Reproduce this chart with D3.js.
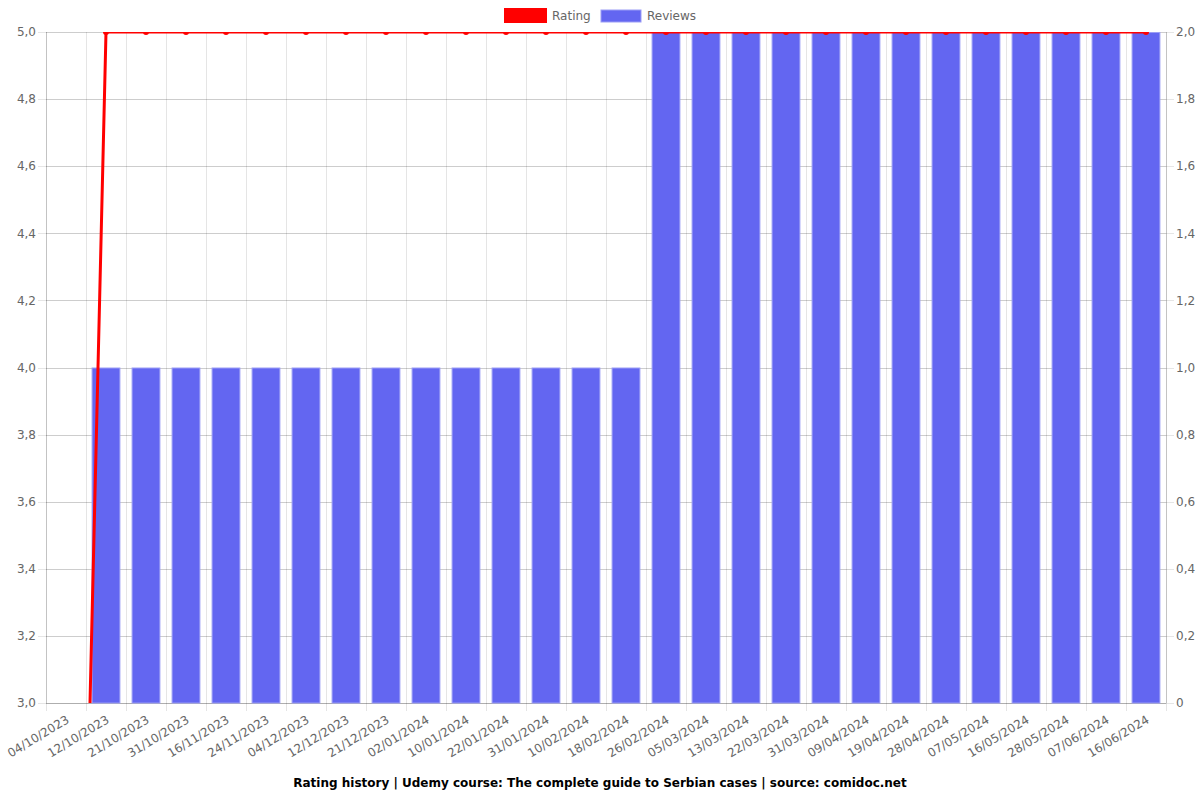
<!DOCTYPE html>
<html><head><meta charset="utf-8">
<script src="https://cdn.jsdelivr.net/npm/d3@7"></script>
<style>body{margin:0;background:#fff;font-family:"DejaVu Sans",sans-serif;}</style>
</head><body><svg id="c" width="1200" height="800"></svg>
<script>
const categories = ["04/10/2023","12/10/2023","21/10/2023","31/10/2023","16/11/2023","24/11/2023","04/12/2023","12/12/2023","21/12/2023","02/01/2024","10/01/2024","22/01/2024","31/01/2024","10/02/2024","18/02/2024","26/02/2024","05/03/2024","13/03/2024","22/03/2024","31/03/2024","09/04/2024","19/04/2024","28/04/2024","07/05/2024","16/05/2024","28/05/2024","07/06/2024","16/06/2024"];
const rating = [0,5,5,5,5,5,5,5,5,5,5,5,5,5,5,5,5,5,5,5,5,5,5,5,5,5,5,5];
const reviews = [0,1,1,1,1,1,1,1,1,1,1,1,1,1,1,2,2,2,2,2,2,2,2,2,2,2,2,2];
const leftTicks = [3.0,3.2,3.4,3.6,3.8,4.0,4.2,4.4,4.6,4.8,5.0];
const rightTicks = [0,0.2,0.4,0.6,0.8,1.0,1.2,1.4,1.6,1.8,2.0];
const title = "Rating history | Udemy course: The complete guide to Serbian cases | source: comidoc.net";

const L=46, R=1166, T=32, B=703;
const svg = d3.select("#c");
const x = d3.scaleBand().domain(categories).range([L,R]).paddingInner(0).paddingOuter(0);
const yL = d3.scaleLinear().domain([3,5]).range([B,T]);
const yR = d3.scaleLinear().domain([0,2]).range([B,T]);
const fmt = v => v===0 ? "0" : d3.format(".1f")(v).replace(".",",");

// grid
const g = svg.append("g");
const bounds = categories.map(c=>x(c)).concat([R]);
g.selectAll(".vg").data(bounds).enter().append("line")
 .attr("x1",d=>d+0.5).attr("x2",d=>d+0.5).attr("y1",T).attr("y2",B+8)
 .attr("stroke","rgba(0,0,0,0.1)");
[yL,yR].forEach((s,i)=>{
  const ticks = i===0?leftTicks:rightTicks;
  g.selectAll(".hg"+i).data(ticks).enter().append("line")
   .attr("x1",i===0?L-8:L).attr("x2",i===0?R:R+8)
   .attr("y1",d=>Math.round(s(d))+0.5).attr("y2",d=>Math.round(s(d))+0.5)
   .attr("stroke","rgba(0,0,0,0.1)");
});
g.append("line").attr("x1",L+0.5).attr("x2",L+0.5).attr("y1",T).attr("y2",B).attr("stroke","rgba(0,0,0,0.15)");
g.append("line").attr("x1",R+0.5).attr("x2",R+0.5).attr("y1",T).attr("y2",B).attr("stroke","rgba(0,0,0,0.15)");
g.append("line").attr("x1",L).attr("x2",R).attr("y1",B+0.5).attr("y2",B+0.5).attr("stroke","rgba(0,0,0,0.15)");

// tick labels
svg.append("g").selectAll("text").data(leftTicks).enter().append("text")
 .attr("x",L-10).attr("y",d=>yL(d)).attr("dy","0.35em").attr("text-anchor","end")
 .attr("font-size",12).attr("fill","#666").text(fmt);
svg.append("g").selectAll("text").data(rightTicks).enter().append("text")
 .attr("x",R+10).attr("y",d=>yR(d)).attr("dy","0.35em").attr("text-anchor","start")
 .attr("font-size",12).attr("fill","#666").text(fmt);
svg.append("g").selectAll("text").data(categories).enter().append("text")
 .attr("transform",d=>`translate(${x(d)+x.bandwidth()/2+4},${B+19}) rotate(-31)`)
 .attr("text-anchor","end").attr("font-size",12).attr("fill","#666").text(d=>d);

// clip
svg.append("clipPath").attr("id","clip").append("rect").attr("x",L).attr("y",T).attr("width",R-L).attr("height",B-T);

// bars
const bw = x.bandwidth()*0.72;
svg.append("g").selectAll("rect").data(categories).enter().append("rect")
 .filter((d,i)=>reviews[i]>0)
 .attr("x",d=>x(d)+x.bandwidth()/2-bw/2+0.5).attr("width",bw-1)
 .attr("y",(d)=>yR(reviews[categories.indexOf(d)])+0.5)
 .attr("height",d=>B-yR(reviews[categories.indexOf(d)])-0.5)
 .attr("fill","#6366f1").attr("stroke","#9b9df5").attr("stroke-width",1);

// line
const cx = d=>x(d)+x.bandwidth()/2;
const lg = svg.append("g").attr("clip-path","url(#clip)");
lg.append("path").datum(categories)
 .attr("d",d3.line().x(cx).y((d,i)=>yL(rating[i])))
 .attr("fill","none").attr("stroke","#ff0000").attr("stroke-width",3);
lg.selectAll("circle").data(categories).enter().append("circle")
 .attr("cx",cx).attr("cy",(d,i)=>yL(rating[i])).attr("r",3).attr("fill","#ff0000");

// legend
const leg = svg.append("g");
leg.append("rect").attr("x",505.5).attr("y",9.5).attr("width",40).attr("height",12)
 .attr("fill","#ff0000").attr("stroke","#ff0000").attr("stroke-width",3);
leg.append("text").attr("x",552).attr("y",20).attr("font-size",12).attr("fill","#666").text("Rating");
leg.append("rect").attr("x",601).attr("y",10).attr("width",40).attr("height",12)
 .attr("fill","#6366f1").attr("stroke","#9b9df5").attr("stroke-width",1);
leg.append("text").attr("x",647).attr("y",20).attr("font-size",12).attr("fill","#666").text("Reviews");

// title
svg.append("text").attr("x",600).attr("y",787).attr("text-anchor","middle")
 .attr("font-size",12).attr("font-weight","bold").attr("fill","#000").text(title);
</script></body></html>
